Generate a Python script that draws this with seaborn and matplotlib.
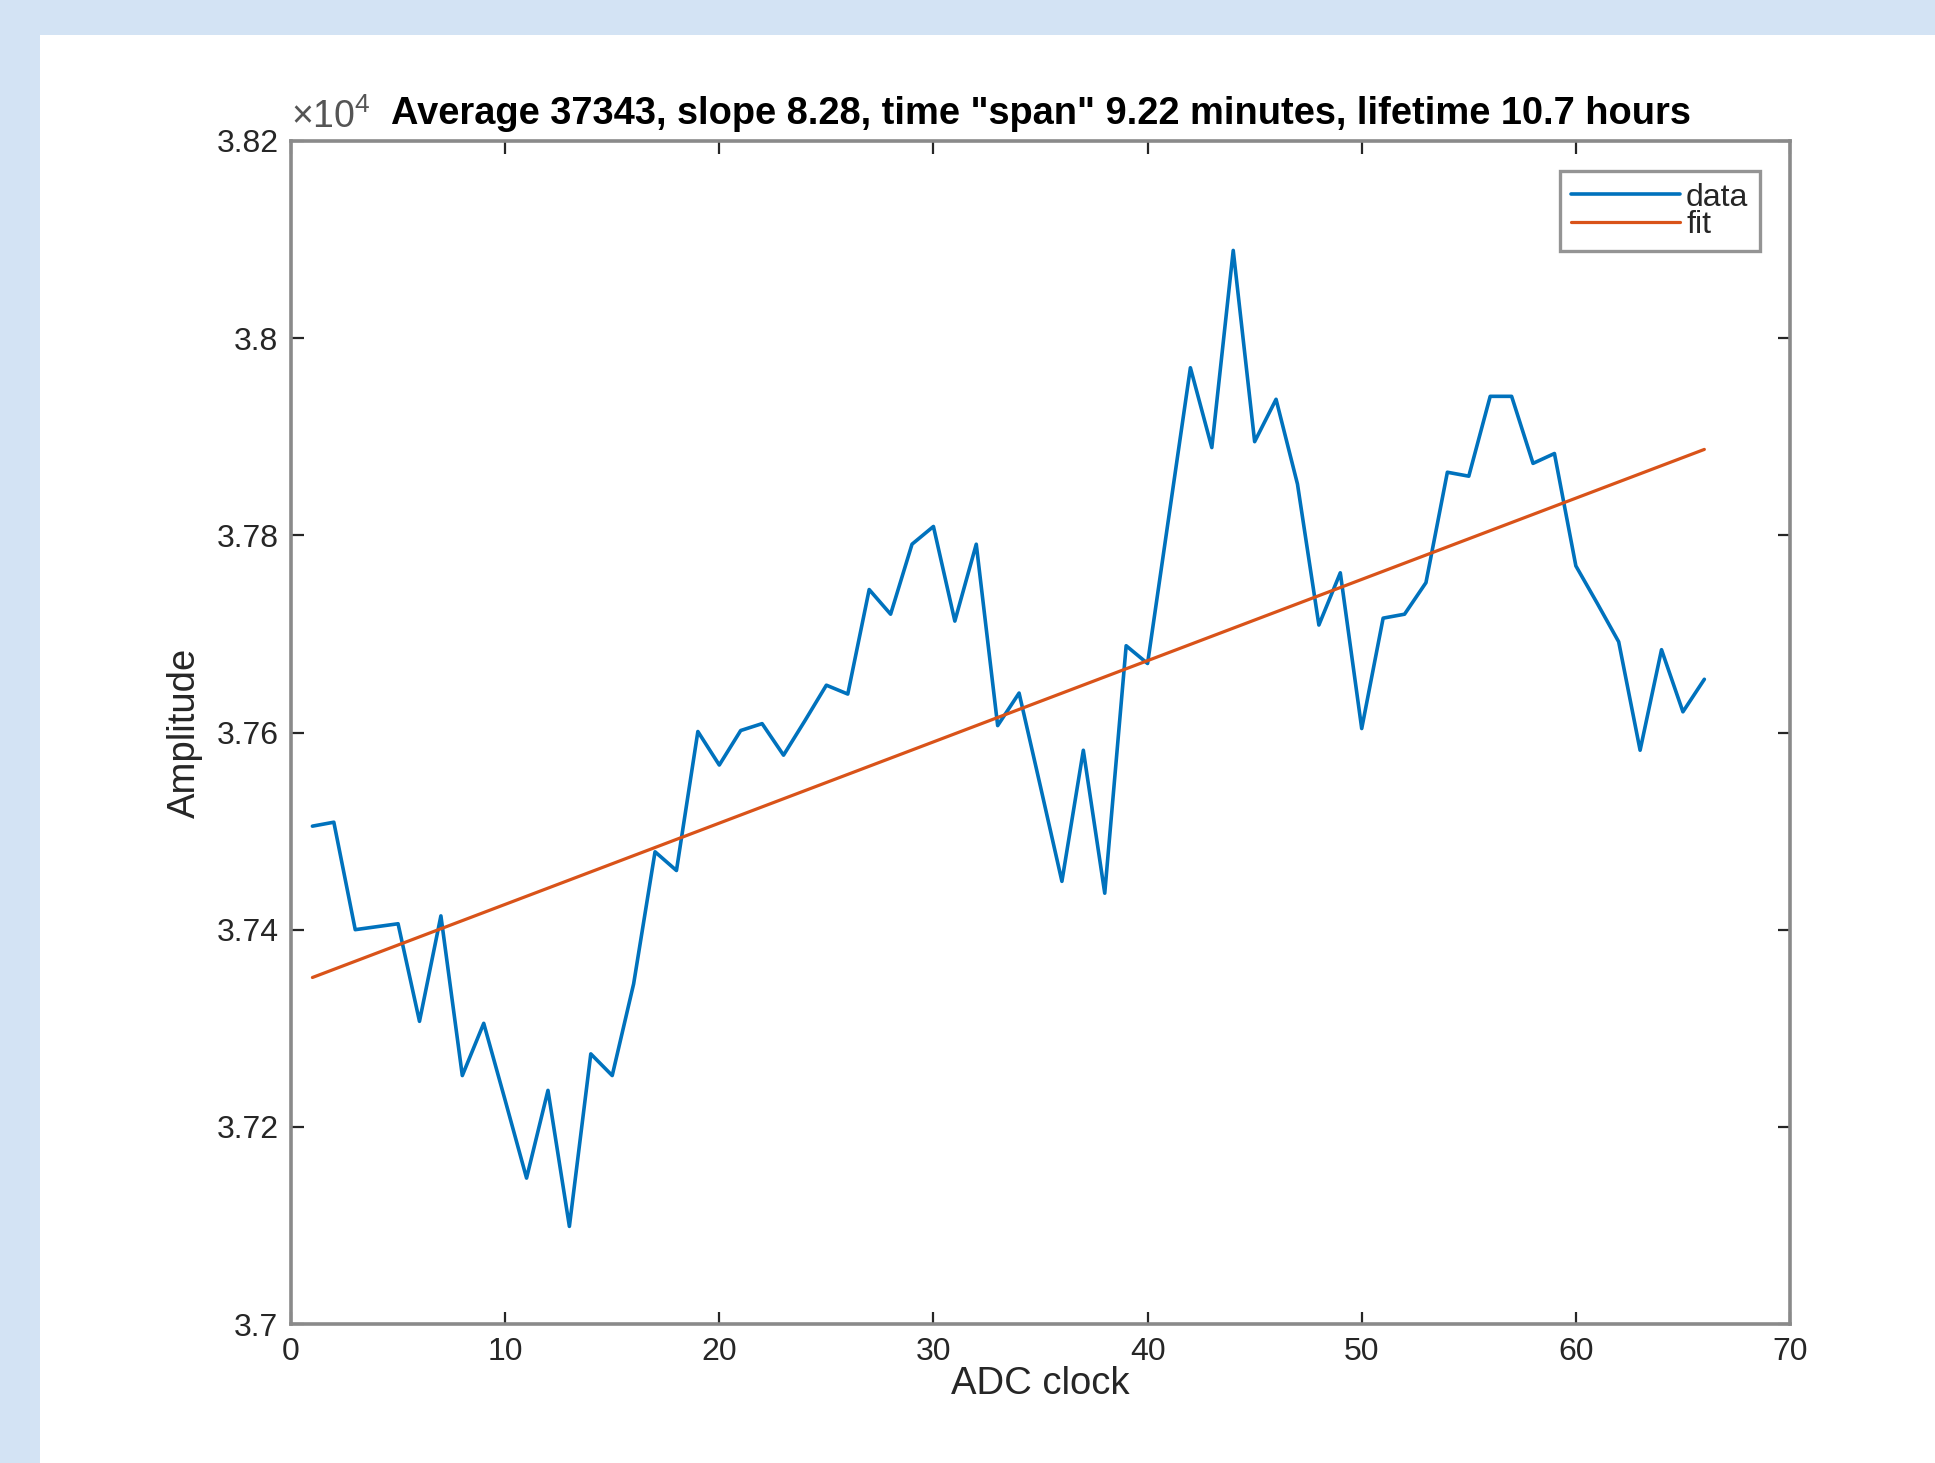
"""
ADC amplitude drift with linear fit, MATLAB-style figure on a blue page.
"""

import numpy as np
import pandas as pd
import matplotlib
matplotlib.use("Agg")
import matplotlib.pyplot as plt
import seaborn as sns
from matplotlib.ticker import FuncFormatter

adc_clock = list(range(1, 67))
amplitude = [
    37505, 37509, 37400, 37403, 37406, 37307, 37414, 37252, 37305, 37227,
    37148, 37237, 37099, 37274, 37252, 37345, 37479, 37460, 37601, 37567,
    37602, 37609, 37577, 37612, 37648, 37639, 37745, 37720, 37791, 37809,
    37713, 37791, 37607, 37640, 37545, 37449, 37582, 37437, 37688, 37670,
    37820, 37970, 37889, 38089, 37895, 37938, 37852, 37709, 37762, 37604,
    37716, 37720, 37752, 37864, 37860, 37941, 37941, 37873, 37883, 37769,
    37731, 37692, 37582, 37684, 37621, 37654,
]
title_text = 'Average 37343, slope 8.28, time "span" 9.22 minutes, lifetime 10.7 hours'
x_ticks = [0, 10, 20, 30, 40, 50, 60, 70]
y_ticks = [37000, 37200, 37400, 37600, 37800, 38000, 38200]

BLUE = "#0072BD"
ORANGE = "#D95319"
AXIS_GRAY = "#262626"

df = pd.DataFrame({"clock": adc_clock, "amp": amplitude})
slope, intercept = np.polyfit(df["clock"], df["amp"], 1)
df["fit"] = intercept + slope * df["clock"]

sns.set_theme(style="white")
plt.rcParams["font.family"] = ["Liberation Sans", "DejaVu Sans"]
plt.rcParams["mathtext.fontset"] = "custom"
plt.rcParams["mathtext.rm"] = "Liberation Sans"

fig = plt.figure(figsize=(19.35, 14.63), dpi=100)
fig.patch.set_facecolor("#d3e3f4")

# white page area behind the plot
page = fig.add_axes([40 / 1935, 0, 1 - 40 / 1935, 1 - 35 / 1463], zorder=-5)
page.set_facecolor("white")
page.set_xticks([])
page.set_yticks([])
for s in page.spines.values():
    s.set_visible(False)

ax = fig.add_axes([291 / 1935, 1 - 1324 / 1463, (1790 - 291) / 1935, (1324 - 141) / 1463])
ax.set_facecolor("white")

sns.lineplot(data=df, x="clock", y="amp", ax=ax, color=BLUE, linewidth=2.6, label="data")
sns.lineplot(data=df, x="clock", y="fit", ax=ax, color=ORANGE, linewidth=2.3, label="fit")

ax.set_xlim(0, 70)
ax.set_ylim(37000, 38200)
ax.set_xticks(x_ticks)
ax.set_yticks(y_ticks)
ax.yaxis.set_major_formatter(FuncFormatter(lambda v, p: f"{v / 1e4:g}"))

for side in ["top", "bottom", "left", "right"]:
    ax.spines[side].set_visible(True)
    ax.spines[side].set_color("#8a8a8a")
    ax.spines[side].set_linewidth(2.6)
ax.tick_params(axis="both", which="major", direction="in", length=9, width=1.6,
               color=AXIS_GRAY, labelcolor=AXIS_GRAY, labelsize=23,
               top=True, right=True, bottom=True, left=True)
ax.tick_params(axis="x", pad=9)
ax.tick_params(axis="y", pad=9)

ax.set_xlabel("ADC clock", fontsize=27.5, color=AXIS_GRAY, labelpad=0)
ax.set_ylabel("Amplitude", fontsize=27.5, color=AXIS_GRAY, labelpad=10)
ax.set_title(title_text, fontsize=27.4, fontweight="bold", color="black", pad=12)
ax.text(0.0, 1.004, r"$\times\mathrm{10}^{4}$", transform=ax.transAxes, fontsize=27,
        color="#555555", ha="left", va="bottom")

leg = ax.legend(loc="upper right", fontsize=23, handlelength=3.4, handletextpad=0.2,
                labelspacing=-0.08, borderpad=0.35, borderaxespad=0.95,
                frameon=True, fancybox=False)
leg.get_frame().set_edgecolor("#7a7a7a")
leg.get_frame().set_linewidth(2.4)

fig.savefig("out.png", dpi=100)
plt.close(fig)
